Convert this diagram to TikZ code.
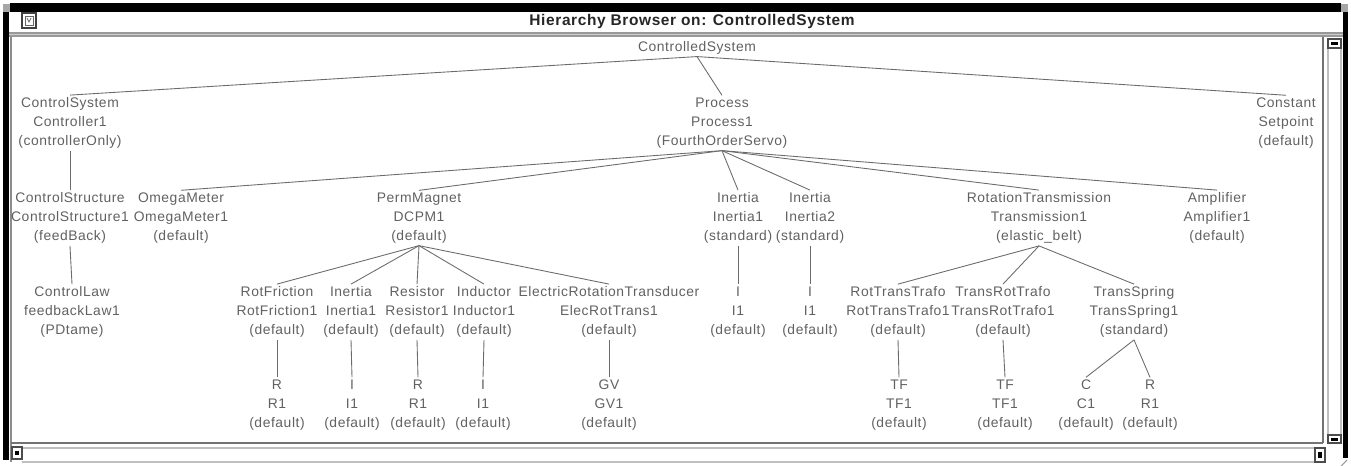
\documentclass[tikz,border=0pt]{standalone}
\usepackage{fontspec}
\setmainfont{Liberation Sans}[LetterSpace=4]
\usepackage{tikz}

\begin{document}
\begin{tikzpicture}[x=0.02cm, y=-0.02cm,
    comp/.style={align=center, inner sep=1pt, text=black!62,
                 font=\fontsize{7.9}{11}\selectfont},
    edge/.style={draw=black!58, line width=0.5pt}]
        \useasboundingbox (0,0) rectangle (1351,466);

        % Window border
        \fill[black!35] (3,4) rectangle (10,12);
        \fill[black!35] (1341,4) rectangle (1348,12);
        \fill[black] (10,3) rectangle (1341,12);
        \fill[black] (3,12) rectangle (9,460);
        \fill[black] (1343,12) rectangle (1348,458);

        % Title bar
        \fill[black!40] (9,32) rectangle (1343,37);
        \draw[black!20, line width=0.6pt] (9,34.5) -- (1343,34.5);
        \draw[black!75, line width=0.8pt] (22,13) rectangle (36,28);
        \draw[black!60, line width=0.5pt] (25,16) rectangle (33,25);
        \draw[black!60, line width=0.5pt] (27,18) -- (29,22) -- (31,18);
        \node[font=\bfseries\fontsize{8.8}{11}\selectfont, text=black!85] (title) at (692,22)
            {Hierarchy Browser on: ControlledSystem};

        % Left edge of the pane
        \draw[black!45, line width=1.2pt] (11,37) -- (11,462);

        % Vertical scroll bar
        \draw[black!55, line width=1pt] (1323,37) -- (1323,443);
        \draw[black!25, line width=0.6pt] (1328,48) -- (1328,435);
        \draw[black!25, line width=0.6pt] (1341,48) -- (1341,435);
        \draw[black!70, line width=0.6pt] (1328,39) rectangle (1341,48);
        \fill[black] (1331,42.5) rectangle (1338,45);
        \draw[black!70, line width=0.6pt] (1328,435) rectangle (1341,443);
        \fill[black] (1331,438) rectangle (1338,440.5);

        % Horizontal scroll bar
        \draw[black!55, line width=1.2pt] (11,443) -- (1323,443);
        \draw[black!25, line width=0.6pt] (22,448) -- (1315,448);
        \draw[black!25, line width=0.6pt] (22,462) -- (1315,462);
        \draw[black!70, line width=0.6pt] (12,447) rectangle (22,459);
        \fill[black] (15,451) rectangle (19,455);
        \draw[black!70, line width=0.6pt] (1315,448) rectangle (1325,462);
        \fill[black] (1318,452) rectangle (1322,458);
        \draw[black!40, line width=0.6pt] (1341,466) -- (1347,460);

        % Root
        \node[comp] (ctrlsys) at (697,48) {ControlledSystem};

        % First level
        \node[comp] (ctrl) at (70,123) {ControlSystem\\Controller1\\(controllerOnly)};
        \node[comp] (proc) at (722,123) {Process\\Process1\\(FourthOrderServo)};
        \node[comp] (setp) at (1286,123) {Constant\\Setpoint\\(default)};

        % Second level
        \node[comp] (cstruct) at (70,218) {ControlStructure\\ControlStructure1\\(feedBack)};
        \node[comp] (omega) at (181,218) {OmegaMeter\\OmegaMeter1\\(default)};
        \node[comp] (dcpm) at (419,218) {PermMagnet\\DCPM1\\(default)};
        \node[comp] (inert1) at (738,218) {Inertia\\Inertia1\\(standard)};
        \node[comp] (inert2) at (810,218) {Inertia\\Inertia2\\(standard)};
        \node[comp] (trans) at (1039,218) {RotationTransmission\\Transmission1\\(elastic\_belt)};
        \node[comp] (amp) at (1217,218) {Amplifier\\Amplifier1\\(default)};

        % Third level
        \node[comp] (claw) at (72,312) {ControlLaw\\feedbackLaw1\\(PDtame)};
        \node[comp] (rfric) at (277,312) {RotFriction\\RotFriction1\\(default)};
        \node[comp] (minert) at (351,312) {Inertia\\Inertia1\\(default)};
        \node[comp] (res) at (417,312) {Resistor\\Resistor1\\(default)};
        \node[comp] (ind) at (484,312) {Inductor\\Inductor1\\(default)};
        \node[comp] (ert) at (609,312) {ElectricRotationTransducer\\ElecRotTrans1\\(default)};
        \node[comp] (iA) at (738,312) {I\\I1\\(default)};
        \node[comp] (iB) at (810,312) {I\\I1\\(default)};
        \node[comp] (rtt) at (898,312) {RotTransTrafo\\RotTransTrafo1\\(default)};
        \node[comp] (trt) at (1003,312) {TransRotTrafo\\TransRotTrafo1\\(default)};
        \node[comp] (tspr) at (1134,312) {TransSpring\\TransSpring1\\(standard)};

        % Fourth level
        \node[comp] (fricR) at (277,405) {R\\R1\\(default)};
        \node[comp] (inI) at (352,405) {I\\I1\\(default)};
        \node[comp] (resR) at (418,405) {R\\R1\\(default)};
        \node[comp] (indI) at (483,405) {I\\I1\\(default)};
        \node[comp] (gv) at (609,405) {GV\\GV1\\(default)};
        \node[comp] (tfA) at (899,405) {TF\\TF1\\(default)};
        \node[comp] (tfB) at (1005,405) {TF\\TF1\\(default)};
        \node[comp] (cap) at (1086,405) {C\\C1\\(default)};
        \node[comp] (sprR) at (1150,405) {R\\R1\\(default)};

        % Edges from the root
        \draw[edge] (ctrlsys.south) -- (ctrl.north);
        \draw[edge] (ctrlsys.south) -- (proc.north);
        \draw[edge] (ctrlsys.south) -- (setp.north);

        % Edges from Process
        \draw[edge] (proc.south) -- (omega.north);
        \draw[edge] (proc.south) -- (dcpm.north);
        \draw[edge] (proc.south) -- (inert1.north);
        \draw[edge] (proc.south) -- (inert2.north);
        \draw[edge] (proc.south) -- (trans.north);
        \draw[edge] (proc.south) -- (amp.north);

        % Controller branch
        \draw[edge] (ctrl.south) -- (cstruct.north);
        \draw[edge] (cstruct.south) -- (claw.north);

        % Edges from PermMagnet
        \draw[edge] (dcpm.south) -- (rfric.north);
        \draw[edge] (dcpm.south) -- (minert.north);
        \draw[edge] (dcpm.south) -- (res.north);
        \draw[edge] (dcpm.south) -- (ind.north);
        \draw[edge] (dcpm.south) -- (ert.north);

        % Inertias
        \draw[edge] (inert1.south) -- (iA.north);
        \draw[edge] (inert2.south) -- (iB.north);

        % Edges from RotationTransmission
        \draw[edge] (trans.south) -- (rtt.north);
        \draw[edge] (trans.south) -- (trt.north);
        \draw[edge] (trans.south) -- (tspr.north);

        % Leaves
        \draw[edge] (rfric.south) -- (fricR.north);
        \draw[edge] (minert.south) -- (inI.north);
        \draw[edge] (res.south) -- (resR.north);
        \draw[edge] (ind.south) -- (indI.north);
        \draw[edge] (ert.south) -- (gv.north);
        \draw[edge] (rtt.south) -- (tfA.north);
        \draw[edge] (trt.south) -- (tfB.north);
        \draw[edge] (tspr.south) -- (cap.north);
        \draw[edge] (tspr.south) -- (sprR.north);
    \end{tikzpicture}
\end{document}
